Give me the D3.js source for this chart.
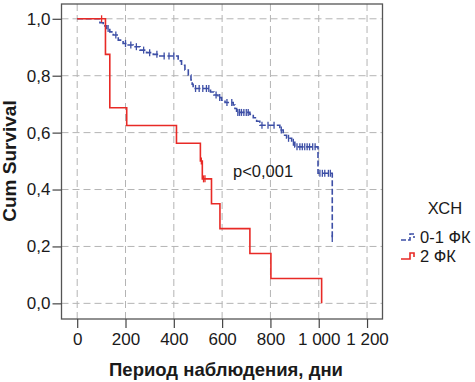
<!DOCTYPE html>
<html>
<head>
<meta charset="utf-8">
<script src="https://cdn.jsdelivr.net/npm/d3@7"></script>
<style>
  body { margin: 0; background: #fff; }
  svg text { font-family: Arial, "Liberation Sans", sans-serif; fill: #1a1a1a; }
</style>
</head>
<body>
<div class="km-container"></div>
<script>
// Axis ticks
const x_ticks = [0, 200, 400, 600, 800, 1000, 1200];
const x_tick_labels = ['0', '200', '400', '600', '800', '1 000', '1 200'];
const y_ticks = [0, 0.2, 0.4, 0.6, 0.8, 1.0];
const y_tick_labels = ['0,0', '0,2', '0,4', '0,6', '0,8', '1,0'];

// 0-1 ФК : event times (days) and survival after each event
const blue_times = [0, 94, 108, 122, 135, 149, 170, 190, 211, 232, 260, 287, 315, 342, 418, 432, 446, 460, 471, 476,
                    480, 552, 566, 583, 598, 612, 646, 653, 660, 715, 729, 743, 756, 839, 853, 867, 888, 901, 997, 1056];
const blue_surv = [1, .986, .975, .966, .954, .943, .925, .913, .908, .902, .890, .881, .875, .869, .852, .837, .820, .802, .785, .770,
                   .755, .743, .732, .723, .714, .706, .697, .685, .671, .664, .652, .640, .626, .609, .591, .580, .566, .550, .457, .228];
const blue_censored = [128, 160, 200, 222, 245, 275, 300, 330, 360, 380, 400, 490, 505, 520, 535, 545, 575, 590, 620, 640,
                       665, 672, 680, 690, 700, 708, 765, 790, 815, 845, 875, 895, 910, 922, 932, 942, 952, 962, 975, 985,
                       1005, 1015, 1025, 1040, 1048, 1056];

// 2 ФК
const red_times = [0, 117, 135, 205, 411, 510, 518, 556, 591, 715, 802, 1012];
const red_surv = [1, .875, .6875, .625, .5625, .5, .4375, .35, .2625, .175, .0875, 0];
const red_censored = [101, 514, 523, 529];

const groups = ['0-1 ФК', '2 ФК'];

const svg_width = 475;
const svg_height = 382;
const plot = {left: 61.5, top: 4, right: 382.5, bottom: 319};

const svg = d3.select('.km-container')
    .append('svg')
    .attr('width', svg_width)
    .attr('height', svg_height);

const x_scale = d3.scaleLinear([-65, 1264], [plot.left, plot.right]);
const y_scale = d3.scaleLinear([-0.055, 1.052], [plot.bottom, plot.top]);

// grid
const grid = svg.append('g').attr('class', 'grid')
    .attr('stroke', '#b4b4b4').attr('stroke-width', 1).attr('stroke-dasharray', '7,4');
grid.selectAll('.vgrid').data(x_ticks).join('line')
    .attr('x1', d => x_scale(d)).attr('x2', d => x_scale(d))
    .attr('y1', plot.top).attr('y2', plot.bottom);
grid.selectAll('.hgrid').data(y_ticks).join('line')
    .attr('class', 'hgrid')
    .attr('x1', plot.left).attr('x2', plot.right)
    .attr('y1', d => y_scale(d)).attr('y2', d => y_scale(d));

// frame
svg.append('rect')
    .attr('x', plot.left).attr('y', plot.top)
    .attr('width', plot.right - plot.left).attr('height', plot.bottom - plot.top)
    .attr('fill', 'none').attr('stroke', '#555').attr('stroke-width', 1.3);

// axes
const x_axis = d3.axisBottom(x_scale)
    .tickValues(x_ticks)
    .tickFormat((d, i) => x_tick_labels[i])
    .tickSize(9).tickPadding(5);
const x_axis_draw = svg.append('g')
    .attr('transform', `translate(0,${plot.bottom})`)
    .call(x_axis);

const y_axis = d3.axisLeft(y_scale)
    .tickValues(y_ticks)
    .tickFormat((d, i) => y_tick_labels[i])
    .tickSize(9).tickPadding(2);
const y_axis_draw = svg.append('g')
    .attr('transform', `translate(${plot.left},0)`)
    .call(y_axis);

[x_axis_draw, y_axis_draw].forEach(a => {
    a.select('.domain').remove();
    a.selectAll('line').attr('stroke', '#444').attr('stroke-width', 1.2);
    a.selectAll('text').style('font-size', '17px').attr('fill', '#1a1a1a');
});

// step curves
function step_value(times, surv, t){
    let s = surv[0];
    times.forEach((tt, i) => { if (tt <= t) s = surv[i]; });
    return s;
}

const line = d3.line()
    .x(d => x_scale(d[0]))
    .y(d => y_scale(d[1]))
    .curve(d3.curveStepAfter);

const series = [
    {name: groups[0], times: blue_times, surv: blue_surv, cens: blue_censored, color: '#3d4fa6', dash: '6,2.5'},
    {name: groups[1], times: red_times, surv: red_surv, cens: red_censored, color: '#e82a26', dash: null}
];

series.forEach(sr => {
    const pts = sr.times.map((t, i) => [t, sr.surv[i]]);
    svg.append('path')
        .datum(pts)
        .attr('d', line)
        .attr('fill', 'none')
        .attr('stroke', sr.color)
        .attr('stroke-width', 1.6)
        .attr('stroke-dasharray', sr.dash);
    svg.append('g').selectAll('line')
        .data(sr.cens)
        .join('line')
        .attr('x1', d => x_scale(d)).attr('x2', d => x_scale(d))
        .attr('y1', d => y_scale(step_value(sr.times, sr.surv, d)) - 3.5)
        .attr('y2', d => y_scale(step_value(sr.times, sr.surv, d)) + 3.5)
        .attr('stroke', sr.color).attr('stroke-width', 1.3);
});

// p value
svg.append('text')
    .attr('x', 233).attr('y', 177)
    .style('font-size', '16.5px')
    .text('p<0,001');

// axis titles
svg.append('text')
    .attr('x', 226).attr('y', 376)
    .attr('text-anchor', 'middle')
    .style('font-size', '18.5px').style('font-weight', 'bold')
    .text('Период наблюдения, дни');

svg.append('text')
    .attr('transform', `translate(16,161) rotate(-90)`)
    .attr('text-anchor', 'middle')
    .style('font-size', '19px').style('font-weight', 'bold')
    .text('Cum Survival');

// legend
const legend = svg.append('g').attr('class', 'legend');
legend.append('text')
    .attr('x', 445).attr('y', 214)
    .attr('text-anchor', 'middle')
    .style('font-size', '16.5px')
    .text('ХСН');

series.forEach((sr, i) => {
    const ly = 237 + i * 19;
    legend.append('path')
        .attr('d', `M401,${ly + 3}H410V${ly - 3}H414V${ly + 1}`)
        .attr('fill', 'none')
        .attr('stroke', sr.color)
        .attr('stroke-width', 1.6)
        .attr('stroke-dasharray', sr.dash ? '5,2' : null);
    legend.append('text')
        .attr('x', 420).attr('y', ly + 6)
        .style('font-size', '16.5px')
        .text(sr.name);
});
</script>
</body>
</html>
